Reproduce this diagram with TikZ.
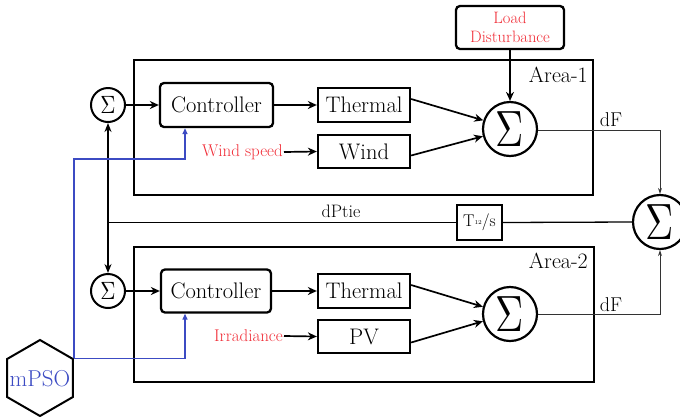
\documentclass[tikz,border=0pt]{standalone}
\usetikzlibrary{arrows.meta,shapes.geometric,calc}
\definecolor{lred}{RGB}{240,45,55}
\definecolor{pblue}{RGB}{60,75,195}
\newcommand{\bigsig}{\scalebox{3.9}[5.1]{$\Sigma$}}
\newcommand{\smallsig}{\scalebox{2.1}[2.5]{$\Sigma$}}
\begin{document}
\begin{tikzpicture}[x=1pt,y=-1pt,
  areabox/.style={draw,line width=2.6pt,inner sep=0pt},
  blk/.style={draw,line width=2.3pt,inner sep=0pt,font=\fontsize{22.5}{24}\selectfont},
  rblk/.style={blk,rounded corners=4pt},
  bigsum/.style={draw,circle,line width=2.2pt,minimum size=54pt,inner sep=0pt},
  smallsum/.style={draw,circle,line width=2pt,minimum size=34pt,inner sep=0pt},
  redlbl/.style={text=lred,font=\fontsize{17}{19}\selectfont,inner sep=1pt},
  arr/.style={line width=1.7pt,-{Stealth[length=9pt,width=8pt]}},
  darr/.style={line width=1.4pt,{Stealth[length=9pt,width=7pt]}-{Stealth[length=9pt,width=7pt]}},
  thinarr/.style={line width=0.8pt,draw=black!80,-{Stealth[length=6pt,width=4pt]}},
  tieline/.style={line width=1.3pt},
  bluearr/.style={line width=1.3pt,draw=pblue,-{Triangle[length=6pt,width=5pt]}},
  txt/.style={font=\fontsize{20}{22}\selectfont,inner sep=1pt},
  arealbl/.style={font=\fontsize{22}{24}\selectfont,inner sep=1pt,anchor=east}
]
\useasboundingbox (0,0) rectangle (680,416);

% area boxes
\node[areabox,minimum width=459pt,minimum height=135pt] (area1) at (363.5,127.5) {};
\node[areabox,minimum width=460pt,minimum height=135pt] (area2) at (364,314.5) {};
\node[arealbl] (a1lbl) at (589,75) {Area-1};
\node[arealbl] (a2lbl) at (589,261) {Area-2};

% load disturbance
\node[draw,line width=2.3pt,rounded corners=4pt,minimum width=108pt,minimum height=43pt,inner sep=0pt,
      align=center,text=lred,font=\fontsize{16.5}{19}\selectfont] (load) at (510,27.5) {Load\\Disturbance};

% area 1 blocks
\node[smallsum] (s1) at (108,105) {\smallsig};
\node[rblk,minimum width=113pt,minimum height=44pt] (ctrl1) at (216.5,105) {Controller};
\node[blk,minimum width=92pt,minimum height=34pt] (th1) at (364,105) {Thermal};
\node[blk,minimum width=92pt,minimum height=33pt] (wind) at (364,151.5) {Wind};
\node[redlbl,anchor=east] (ws) at (284,152) {Wind speed};
\node[bigsum] (S1) at (510,129) {\bigsig};

% area 2 blocks
\node[smallsum] (s2) at (108,291) {\smallsig};
\node[rblk,minimum width=110pt,minimum height=43pt] (ctrl2) at (216,291) {Controller};
\node[blk,minimum width=92pt,minimum height=34pt] (th2) at (364,291) {Thermal};
\node[blk,minimum width=92pt,minimum height=33pt] (pv) at (364,336.5) {PV};
\node[redlbl,anchor=east] (irr) at (284,336) {Irradiance};
\node[bigsum] (S2) at (510,314) {\bigsig};

% tie-line
\node[blk,line width=2pt,minimum width=45pt,minimum height=35pt,font=\fontsize{17}{19}\selectfont] (tf) at (479.5,222.5) {T\raisebox{0.3ex}{\fontsize{6}{6}\selectfont 12}/s};
\node[bigsum] (Sr) at (660,222) {\bigsig};
\node[txt,font=\fontsize{18}{20}\selectfont] (dpt) at (341,211) {dPtie};
\node[txt] (df1) at (611,120) {dF};
\node[txt] (df2) at (611,305) {dF};

% mPSO
\node[draw,regular polygon,regular polygon sides=6,shape border rotate=30,minimum size=76pt,
      inner sep=0pt,line width=2pt] (hex) at (40,378) {};
\node[text=pblue,font=\fontsize{23}{25}\selectfont,inner sep=0pt] (mpso) at (40,379) {mPSO};

% connectors area 1
\draw[arr] (load.south) -- (S1.north);
\draw[arr] (s1.east) -- (ctrl1.west);
\draw[arr] (ctrl1.east) -- (th1.west);
\draw[arr] (ws.east) -- (wind.west);
\draw[arr] ([yshift=6pt]th1.east) -- (S1.162);
\draw[arr] ([yshift=-4pt]wind.east) -- (S1.195);

% connectors area 2
\draw[arr] (s2.east) -- (ctrl2.west);
\draw[arr] (ctrl2.east) -- (th2.west);
\draw[arr] (irr.east) -- (pv.west);
\draw[arr] ([yshift=6pt]th2.east) -- (S2.165);
\draw[arr] ([yshift=-6pt]pv.east) -- (S2.195);

% inter-area
\draw[darr] (s1.south) -- (s2.north);
\coordinate (tj) at (s1.south |- tf.west);
\draw[tieline] (tj) -- (tf.west);
\draw[tieline] (tf.east) -- (Sr.west);
\draw[thinarr] ([yshift=-1pt]S1.east) -| (Sr.north);
\draw[thinarr] (S2.east) -| (Sr.south);

% mPSO links
\coordinate (b1) at (0,159);
\coordinate (c1in) at ([xshift=-31.5pt]ctrl1.south);
\coordinate (c2in) at ([xshift=-31pt]ctrl2.south);
\draw[bluearr] (hex.30) -- (hex.30 |- b1) -| (c1in);
\draw[bluearr] (hex.30) -| (c2in);
\end{tikzpicture}
\end{document}
